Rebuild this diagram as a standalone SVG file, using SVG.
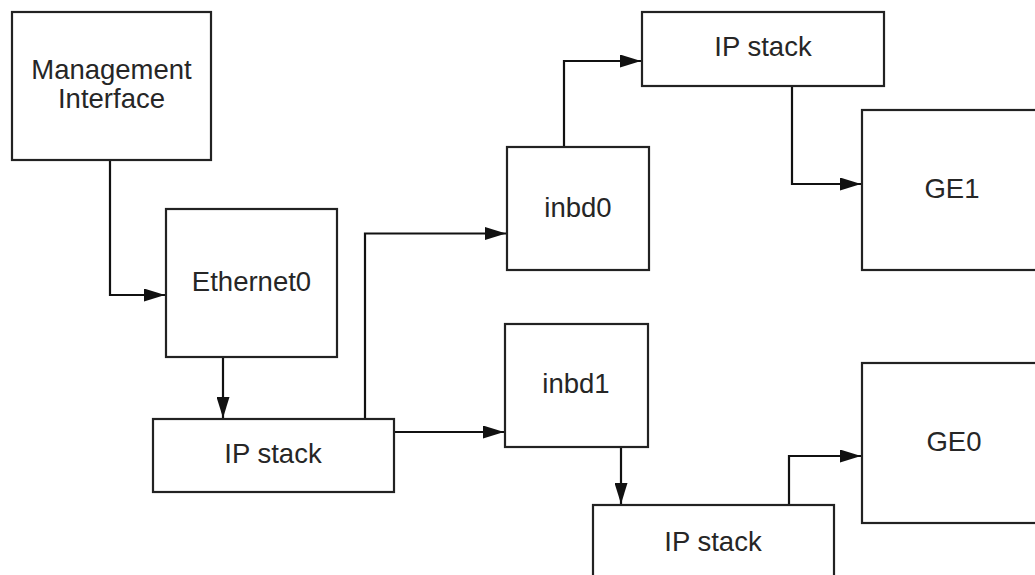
<svg xmlns="http://www.w3.org/2000/svg" width="1035" height="575" viewBox="0 0 1035 575">
<style>
.box{fill:#fff;stroke:#222;stroke-width:2.2}
.lbl{font-family:"Liberation Sans",Arial,sans-serif;font-size:27.5px;fill:#262626;text-anchor:middle}
.con{fill:none;stroke:#111;stroke-width:2.2}
</style>
<defs>
<marker id="arr" markerWidth="21" markerHeight="13" refX="21" refY="6.5" orient="auto" markerUnits="userSpaceOnUse">
<path d="M0,0 L21,6.5 L0,13 Z" fill="#111"/>
</marker>
</defs>
<rect width="1035" height="575" fill="#fff"/>
<g id="connectors">
<path class="con" d="M110,160 V295 H165" marker-end="url(#arr)"/>
<path class="con" d="M223,357 V418" marker-end="url(#arr)"/>
<path class="con" d="M365,419 V233.5 H506" marker-end="url(#arr)"/>
<path class="con" d="M394,432 H504" marker-end="url(#arr)"/>
<path class="con" d="M564,147 V61 H641" marker-end="url(#arr)"/>
<path class="con" d="M792,86 V184 H861" marker-end="url(#arr)"/>
<path class="con" d="M621,447 V504" marker-end="url(#arr)"/>
<path class="con" d="M789,505 V456 H861" marker-end="url(#arr)"/>
</g>
<g id="mgmt">
<rect class="box" x="12" y="12" width="199" height="148"/>
<text class="lbl" x="111.5" y="79">Management</text>
<text class="lbl" x="111.5" y="108">Interface</text>
</g>
<g id="eth0">
<rect class="box" x="166" y="209" width="171" height="148"/>
<text class="lbl" x="251.5" y="291">Ethernet0</text>
</g>
<g id="ipstack0">
<rect class="box" x="153" y="419" width="241" height="73"/>
<text class="lbl" x="273" y="463">IP stack</text>
</g>
<g id="inbd0">
<rect class="box" x="507" y="147" width="142" height="123"/>
<text class="lbl" x="578" y="217">inbd0</text>
</g>
<g id="inbd1">
<rect class="box" x="505" y="324" width="143" height="123"/>
<text class="lbl" x="576" y="393">inbd1</text>
</g>
<g id="ipstack1">
<rect class="box" x="642" y="12" width="242" height="74"/>
<text class="lbl" x="763" y="56">IP stack</text>
</g>
<g id="ipstack2">
<rect class="box" x="593" y="505" width="241" height="80"/>
<text class="lbl" x="713" y="551">IP stack</text>
</g>
<g id="ge1">
<rect class="box" x="862" y="110" width="190" height="160"/>
<text class="lbl" x="952" y="198">GE1</text>
</g>
<g id="ge0">
<rect class="box" x="862" y="363" width="190" height="160"/>
<text class="lbl" x="954" y="451">GE0</text>
</g>
</svg>
